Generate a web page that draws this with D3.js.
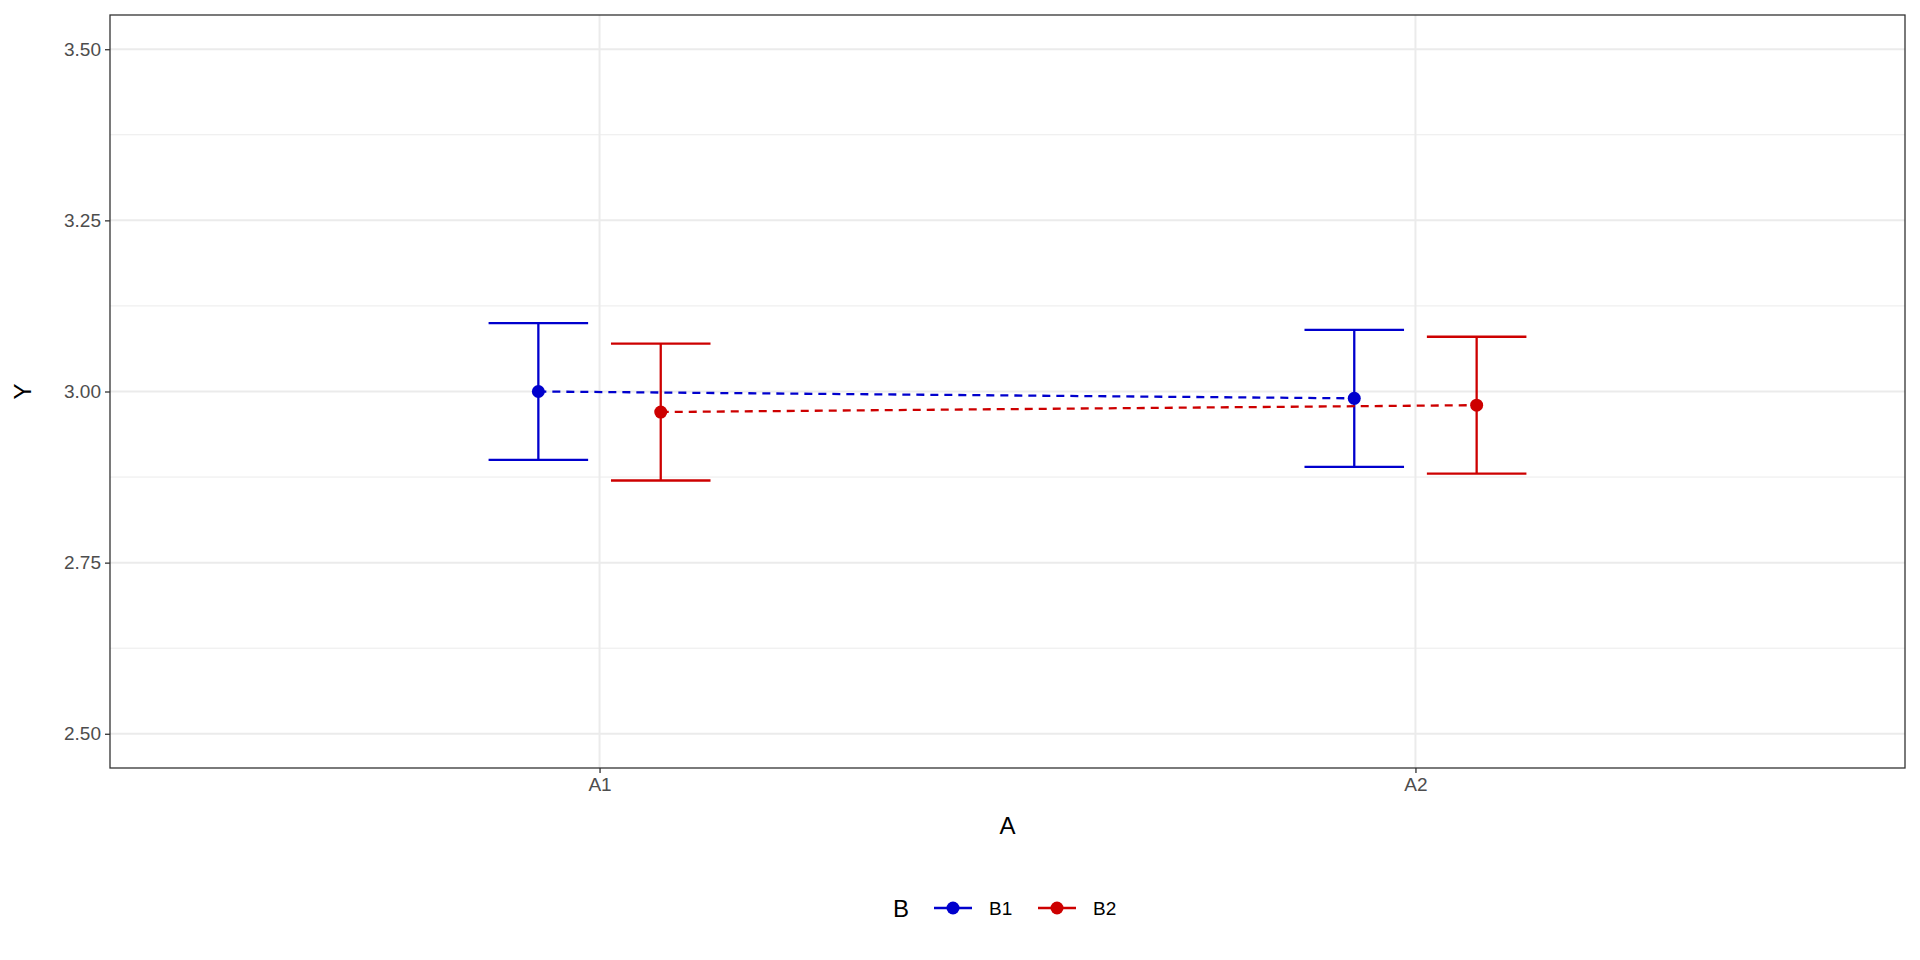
<!DOCTYPE html>
<head>
  <meta charset="utf-8">
  <script src="https://d3js.org/d3.v7.min.js"></script>
  <style>
    body { margin:0; background:#fff; }
    text { font-family: "Liberation Sans", Arial, sans-serif; }
  </style>
</head>
<body>
<script>
  var groups = ["A1", "A2"];
  var series = ["B1", "B2"];
  var colors = ["#0000CD", "#CD0000"];
  var means = [[3.00, 2.99], [2.97, 2.98]];
  var lower = [[2.90, 2.89], [2.87, 2.88]];
  var upper = [[3.10, 3.09], [3.07, 3.08]];
  var yTicks = [2.50, 2.75, 3.00, 3.25, 3.50];
  var yMinor = [2.625, 2.875, 3.125, 3.375];

  var W = 1920, H = 960;
  var m = {left:110, right:15, top:15, bottom:192};
  var pw = W - m.left - m.right, ph = H - m.top - m.bottom;

  var svg = d3.select("body").append("svg").attr("width", W).attr("height", H);
  var g = svg.append("g").attr("transform", "translate(" + m.left + "," + m.top + ")");

  var x = d3.scalePoint().domain(groups).range([0, pw]).padding(0.6);
  var step = x.step();
  var y = d3.scaleLinear().domain([2.45, 3.55]).range([ph, 0]);
  var dodge = 0.075 * step, cap = 0.061 * step;

  // grid
  g.selectAll(".minor").data(yMinor).enter().append("line")
    .attr("x1", 0).attr("x2", pw).attr("y1", y).attr("y2", y)
    .attr("stroke", "#ebebeb").attr("stroke-width", 1);
  g.selectAll(".major").data(yTicks).enter().append("line")
    .attr("x1", 0).attr("x2", pw).attr("y1", y).attr("y2", y)
    .attr("stroke", "#ebebeb").attr("stroke-width", 2);
  g.selectAll(".vmajor").data(groups).enter().append("line")
    .attr("x1", x).attr("x2", x).attr("y1", 0).attr("y2", ph)
    .attr("stroke", "#ebebeb").attr("stroke-width", 2);

  series.forEach(function(s, i) {
    var off = (i === 0 ? -dodge : dodge);
    var pts = groups.map(function(a, j) {
      return {x: x(a) + off, m: means[i][j], lo: lower[i][j], hi: upper[i][j]};
    });
    var sg = g.append("g").attr("stroke", colors[i]).attr("stroke-width", 2.3).attr("fill", "none");
    sg.append("path").datum(pts)
      .attr("d", d3.line().x(function(d) { return d.x; }).y(function(d) { return y(d.m); }))
      .attr("stroke-dasharray", "8,6");
    pts.forEach(function(d) {
      sg.append("line").attr("x1", d.x).attr("x2", d.x).attr("y1", y(d.lo)).attr("y2", y(d.hi));
      sg.append("line").attr("x1", d.x - cap).attr("x2", d.x + cap).attr("y1", y(d.lo)).attr("y2", y(d.lo));
      sg.append("line").attr("x1", d.x - cap).attr("x2", d.x + cap).attr("y1", y(d.hi)).attr("y2", y(d.hi));
      g.append("circle").attr("cx", d.x).attr("cy", y(d.m)).attr("r", 6.5).attr("fill", colors[i]);
    });
  });

  g.append("rect").attr("width", pw).attr("height", ph)
    .attr("fill", "none").attr("stroke", "#333").attr("stroke-width", 1.3);

  // axes
  var yAx = g.append("g").call(d3.axisLeft(y).tickValues(yTicks).tickFormat(d3.format(".2f")).tickSize(5).tickPadding(4));
  yAx.select(".domain").remove();
  yAx.selectAll("line").attr("stroke", "#333").attr("stroke-width", 1.3);
  yAx.selectAll("text").attr("fill", "#4d4d4d").style("font-size", "19px");

  var xAx = g.append("g").attr("transform", "translate(0," + ph + ")")
    .call(d3.axisBottom(x).tickSize(5).tickPadding(5));
  xAx.select(".domain").remove();
  xAx.selectAll("line").attr("stroke", "#333").attr("stroke-width", 1.3);
  xAx.selectAll("text").attr("fill", "#4d4d4d").style("font-size", "19px");

  svg.append("text").attr("x", m.left + pw / 2).attr("y", 834).attr("text-anchor", "middle")
    .style("font-size", "24px").text("A");
  svg.append("text").attr("transform", "translate(31," + (m.top + ph / 2) + ") rotate(-90)")
    .attr("text-anchor", "middle").style("font-size", "24px").text("Y");

  // legend
  var lg = svg.append("g").attr("transform", "translate(0,908)");
  lg.append("text").attr("x", 893).attr("y", 9).style("font-size", "24px").text("B");
  series.forEach(function(s, i) {
    var kx = 934 + i * 104;
    lg.append("line").attr("x1", kx).attr("x2", kx + 38).attr("y1", 0).attr("y2", 0)
      .attr("stroke", colors[i]).attr("stroke-width", 2.3);
    lg.append("circle").attr("cx", kx + 19).attr("cy", 0).attr("r", 6.5).attr("fill", colors[i]);
    lg.append("text").attr("x", kx + 55).attr("y", 7).style("font-size", "19px").text(s);
  });
</script>
</body>
